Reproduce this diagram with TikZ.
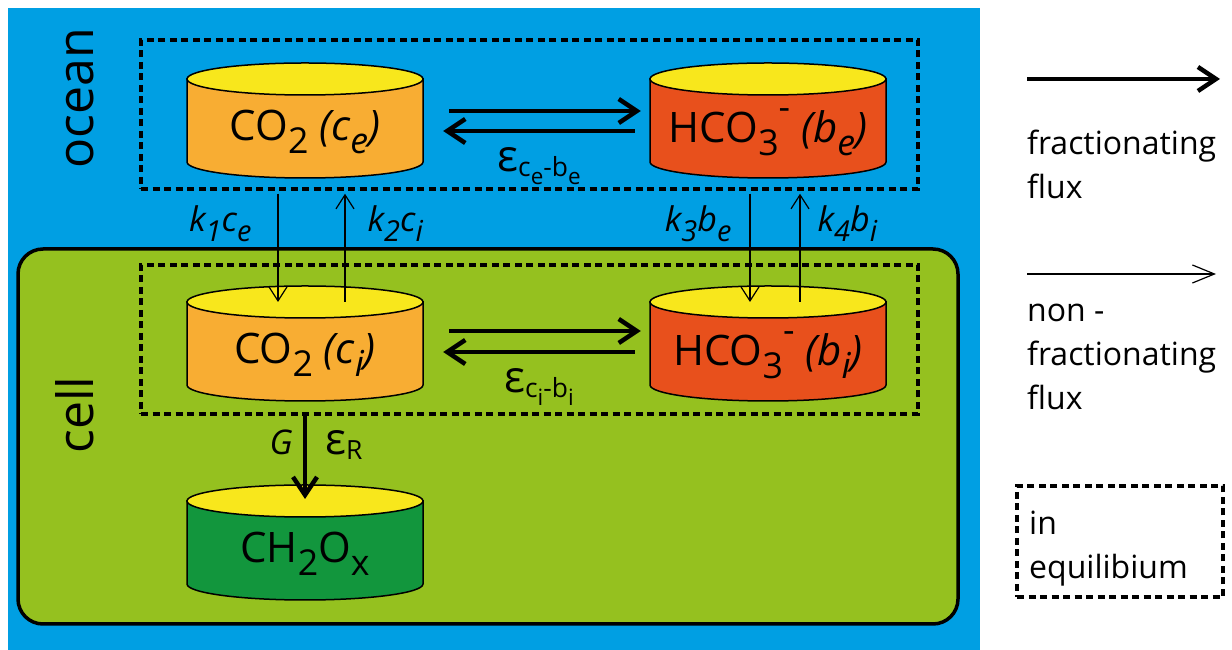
\documentclass[tikz,border=0pt]{standalone}
\usepackage{fontspec}
\setmainfont{Open Sans}
\usepackage{graphicx}
\usetikzlibrary{arrows.meta,positioning,calc}

\definecolor{sea}{HTML}{009FE3}
\definecolor{cellgreen}{HTML}{95C11F}
\definecolor{lid}{HTML}{F8E71C}
\definecolor{co2}{HTML}{F8AD33}
\definecolor{hco3}{HTML}{E8501C}
\definecolor{orgc}{HTML}{12963D}

\newcommand{\dn}[1]{\raisebox{-0.3em}{\scalebox{0.85}{#1}}}
\newcommand{\up}[1]{\raisebox{0.55em}{\scalebox{0.85}{#1}}}
\newcommand{\epsub}[1]{\raisebox{-0.12em}{\scalebox{0.6}{#1}}}

% tank: name, x, y of lid centre, colour, text
\newcommand{\tank}[5]{%
  \filldraw[tankline, fill=#4] (#2-118,#3) -- (#2-118,#3-83)
    arc[start angle=180, end angle=360, x radius=118, y radius=16] -- (#2+118,#3) -- cycle;
  \filldraw[tankline, fill=lid] (#2,#3) ellipse[x radius=118, y radius=16];
  \coordinate (#1-top) at (#2,#3);
  \node[tanktext] (#1) at (#2,#3-53) {#5};
}

\begin{document}
\begin{tikzpicture}[x=1pt, y=1pt,
  tankline/.style={line width=1.5pt},
  tanktext/.style={minimum width=236pt, inner sep=0pt, font=\fontsize{42}{50}\selectfont},
  frac/.style={line width=4.5pt, -{Straight Barb[length=18pt,width=24pt]}},
  nonfrac/.style={line width=1.2pt, -{Straight Barb[length=14pt,width=18pt]}},
  eqbox/.style={draw, line width=3.5pt, dash pattern=on 7pt off 4.5pt, inner sep=0pt},
  rate/.style={font=\fontsize{34}{40}\selectfont\itshape, inner sep=0pt},
  epslab/.style={font=\fontsize{44}{50}\selectfont, inner sep=0pt},
  legtext/.style={font=\fontsize{32}{44}\selectfont, align=left, inner sep=0pt},
  region/.style={font=\fontsize{50}{60}\selectfont, rotate=90, anchor=base, inner sep=0pt}
]
\fill[white] (0,0) rectangle (1232,650);
\useasboundingbox (0,0) rectangle (1232,650);
\fill[sea] (8,0) rectangle (980,642);
\filldraw[fill=cellgreen, line width=3.5pt, rounded corners=25pt] (18,26) rectangle (958,401);

\node[eqbox, minimum width=777pt, minimum height=149pt] (eqocean) at (529.5,535.5) {};
\node[eqbox, minimum width=777pt, minimum height=149pt] (eqcell) at (529.5,310.5) {};

\node[region] (ocean) at (93,552) {ocean};
\node[region] (cell) at (93,235) {cell};

\tank{ce}{305}{571}{co2}{CO\dn{2} \textit{(c\dn{e})}}
\tank{be}{768}{571}{hco3}{HCO\dn{3}\up{-} \textit{(b\dn{e})}}
\tank{ci}{305}{348}{co2}{CO\dn{2} \textit{(c\dn{i})}}
\tank{bi}{768}{348}{hco3}{HCO\dn{3}\up{-} \textit{(b\dn{i})}}
\tank{ch}{305}{149}{orgc}{CH\dn{2}O\dn{x}}

% exchange inside each box
\draw[frac] ([xshift=26pt,yshift=21pt]ce.east) -- ([xshift=-9pt,yshift=21pt]be.west);
\draw[frac] ([xshift=-15pt,yshift=1pt]be.west) -- node[epslab, below=14pt]
  {ε\epsub{c\dn{e}-b\dn{e}}} ([xshift=20pt,yshift=1pt]ce.east);
\draw[frac] ([xshift=26pt,yshift=24pt]ci.east) -- ([xshift=-9pt,yshift=24pt]bi.west);
\draw[frac] ([xshift=-15pt,yshift=3pt]bi.west) -- node[epslab, below=14pt]
  {ε\epsub{c\dn{i}-b\dn{i}}} ([xshift=20pt,yshift=3pt]ci.east);

% across the membrane
\draw[nonfrac] ($(eqocean.south -| ce-top)+(-27,-3)$) --
  node[rate, pos=.345, anchor=base east, xshift=-26pt] {k\dn{1}c\dn{e}} ($(ci-top)+(-27,0)$);
\draw[nonfrac] ($(ci-top)+(40,0)$) --
  node[rate, pos=.655, anchor=base west, xshift=22pt] {k\dn{2}c\dn{i}} ($(eqocean.south -| ci-top)+(40,-3)$);
\draw[nonfrac] ($(eqocean.south -| be-top)+(-18,-3)$) --
  node[rate, pos=.345, anchor=base east, xshift=-18pt] {k\dn{3}b\dn{e}} ($(bi-top)+(-18,0)$);
\draw[nonfrac] ($(bi-top)+(32,0)$) --
  node[rate, pos=.655, anchor=base west, xshift=17pt] {k\dn{4}b\dn{i}} ($(eqocean.south -| bi-top)+(32,-3)$);

% fixation
\draw[frac] (eqcell.south -| ch-top) --
  node[rate, pos=.46, anchor=base east, xshift=-10pt] {G}
  node[epslab, pos=.46, anchor=base west, xshift=18pt] {ε\epsub{R}} ([yshift=2pt]ch-top);

% legend
\coordinate (fracA) at (1027,571);
\coordinate (fracB) at (1220,571);
\draw[frac] (fracA) -- (fracB);
\node[legtext, anchor=base west] (fraclab) at (1027,451) {fractionating\\flux};
\coordinate (nonA) at (1027,376);
\coordinate (nonB) at (1216,376);
\draw[nonfrac, -{Straight Barb[length=22pt,width=18pt]}] (nonA) -- (nonB);
\node[legtext, anchor=base west] (nonlab) at (1027,240) {non -\\fractionating\\flux};
\node[eqbox, minimum width=206pt, minimum height=111pt] (eqleg) at (1120,108.5) {};
\node[legtext, anchor=base west] (eqlab) at (1029,71) {in\\equilibium};
\end{tikzpicture}
\end{document}
